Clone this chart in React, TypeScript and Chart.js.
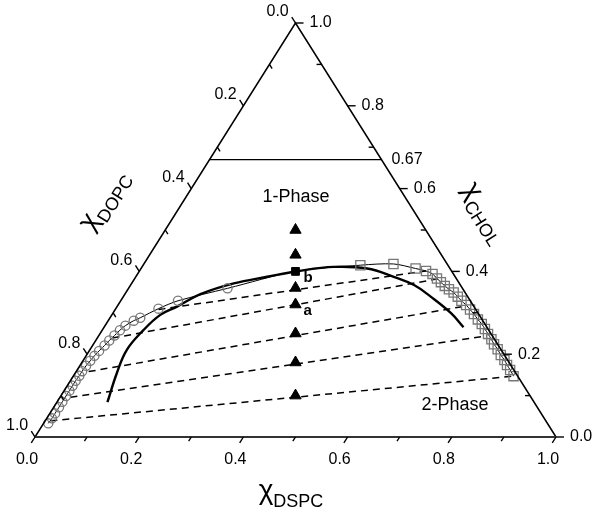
import React, { useEffect, useRef } from "react";
import { Chart, registerables } from "chart.js";

Chart.register(...registerables);

// Ternary compositions: DSPC mole fraction and CHOL mole fraction (DOPC = 1 - DSPC - CHOL)
const circleDSPC = [0.009, 0.010, 0.010, 0.010, 0.010, 0.010, 0.010, 0.010, 0.010, 0.011, 0.011, 0.012, 0.014, 0.016, 0.019, 0.023, 0.026, 0.030, 0.034, 0.039, 0.049, 0.058, 0.082, 0.110, 0.190];
const circleCHOL = [0.033, 0.045, 0.057, 0.072, 0.085, 0.099, 0.112, 0.124, 0.136, 0.148, 0.159, 0.172, 0.184, 0.196, 0.208, 0.221, 0.233, 0.245, 0.258, 0.269, 0.281, 0.288, 0.310, 0.329, 0.359];

const squareDSPC = [0.417, 0.479, 0.527, 0.550, 0.566, 0.580, 0.592, 0.604, 0.616, 0.629, 0.642, 0.654, 0.668, 0.681, 0.694, 0.708, 0.721, 0.733, 0.745, 0.758, 0.769, 0.782, 0.795, 0.808, 0.819, 0.831, 0.845];
const squareCHOL = [0.415, 0.418, 0.407, 0.401, 0.394, 0.383, 0.374, 0.365, 0.357, 0.349, 0.339, 0.329, 0.319, 0.308, 0.297, 0.284, 0.273, 0.261, 0.249, 0.236, 0.224, 0.212, 0.198, 0.186, 0.174, 0.162, 0.147];

const pointB = { dspc: 0.30, chol: 0.40 };

// samples at DSPC:DOPC = 1:1
const sampleCHOL = [0.50, 0.44, 0.36, 0.32, 0.25, 0.18, 0.10];

const curveDSPC = [0.097, 0.080, 0.071, 0.079, 0.093, 0.115, 0.145, 0.196, 0.252, 0.305, 0.368, 0.434, 0.495, 0.544, 0.590, 0.649, 0.690];
const curveCHOL = [0.084, 0.154, 0.210, 0.258, 0.295, 0.315, 0.345, 0.371, 0.387, 0.401, 0.411, 0.407, 0.387, 0.367, 0.339, 0.299, 0.265];

const tieLeftDSPC = [0.010, 0.020, 0.024, 0.029, 0.083];
const tieLeftCHOL = [0.039, 0.096, 0.158, 0.239, 0.308];
const tieRightDSPC = [0.845, 0.745, 0.667, 0.582, 0.550];
const tieRightCHOL = [0.147, 0.244, 0.316, 0.382, 0.401];

const limitCHOL = 0.67;

const tickValues = [0, 0.1, 0.2, 0.3, 0.4, 0.5, 0.6, 0.7, 0.8, 0.9, 1.0];

const toXY = (a: number, c: number) => ({ x: a + c / 2, y: c });

export default function App() {
  const ref = useRef<HTMLCanvasElement>(null);

  useEffect(() => {
    if (!ref.current) return;
    const FONT = '"Liberation Sans", Arial, sans-serif';

    const circles = circleDSPC.map((a, i) => toXY(a, circleCHOL[i]));
    const squares = squareDSPC.map((a, i) => toXY(a, squareCHOL[i]));
    const boundary = [...circles, toXY(pointB.dspc, pointB.chol), ...squares];
    const curve = curveDSPC.map((a, i) => toXY(a, curveCHOL[i]));
    const samples = sampleCHOL.map((c) => toXY((1 - c) / 2, c));

    const tieSets = tieLeftDSPC.map((a, i) => ({
      type: "scatter" as const,
      data: [toXY(a, tieLeftCHOL[i]), toXY(tieRightDSPC[i], tieRightCHOL[i])],
      showLine: true,
      borderColor: "#000",
      borderWidth: 1.5,
      borderDash: [7, 5],
      pointRadius: 0,
      clip: false as any,
      order: 10,
    }));

    const axisPlugin = {
      id: "ternaryAxes",
      afterDatasetsDraw(chart: any) {
        const ctx = chart.ctx as CanvasRenderingContext2D;
        const xs = chart.scales.x;
        const ys = chart.scales.y;
        const P = (a: number, c: number): [number, number] => [
          xs.getPixelForValue(a + c / 2),
          ys.getPixelForValue(c),
        ];
        const BL = P(0, 0);
        const BR = P(1, 0);
        const T = P(0, 1);
        const norm = (v: [number, number]): [number, number] => {
          const l = Math.hypot(v[0], v[1]);
          return [v[0] / l, v[1] / l];
        };
        const dBottom = norm([BL[0] - T[0], BL[1] - T[1]]);
        const dLeft = norm([T[0] - BR[0], T[1] - BR[1]]);

        ctx.save();
        // edges
        ctx.strokeStyle = "#000";
        ctx.lineWidth = 1.5;
        ctx.beginPath();
        ctx.moveTo(BL[0], BL[1]);
        ctx.lineTo(T[0], T[1]);
        ctx.lineTo(BR[0], BR[1]);
        ctx.stroke();
        ctx.strokeStyle = "#333";
        ctx.lineWidth = 2.2;
        ctx.beginPath();
        ctx.moveTo(BL[0], BL[1]);
        ctx.lineTo(BR[0], BR[1]);
        ctx.stroke();

        // 0.67 line
        const L1 = P(0, limitCHOL);
        const L2 = P(1 - limitCHOL, limitCHOL);
        ctx.strokeStyle = "#000";
        ctx.lineWidth = 1.2;
        ctx.beginPath();
        ctx.moveTo(L1[0], L1[1]);
        ctx.lineTo(L2[0], L2[1]);
        ctx.stroke();

        ctx.lineWidth = 1.4;
        ctx.strokeStyle = "#000";
        ctx.fillStyle = "#000";
        ctx.font = `16px ${FONT}`;
        tickValues.forEach((v, i) => {
          const major = i % 2 === 0;
          // bottom: DSPC
          const pb = P(v, 0);
          const lb = major ? 7 : 5;
          ctx.beginPath();
          ctx.moveTo(pb[0], pb[1]);
          ctx.lineTo(pb[0] + dBottom[0] * lb, pb[1] + dBottom[1] * lb);
          ctx.stroke();
          // left: DOPC
          const pl = P(0, 1 - v);
          const sl = major ? 7 : -5;
          ctx.beginPath();
          ctx.moveTo(pl[0], pl[1]);
          ctx.lineTo(pl[0] + dLeft[0] * sl, pl[1] + dLeft[1] * sl);
          ctx.stroke();
          // right: CHOL
          const pr = P(1 - v, v);
          const sr = major ? 8 : -5;
          ctx.beginPath();
          ctx.moveTo(pr[0], pr[1]);
          ctx.lineTo(pr[0] + sr, pr[1]);
          ctx.stroke();

          if (major) {
            const txt = v.toFixed(1);
            ctx.textBaseline = "middle";
            ctx.textAlign = "center";
            ctx.fillText(txt, pb[0] - 8, pb[1] + 23);
            ctx.textAlign = "right";
            ctx.fillText(txt, pl[0] + dLeft[0] * 7 - 3, pl[1] + dLeft[1] * 7 - 5);
            ctx.textAlign = "left";
            ctx.fillText(txt, pr[0] + 14, pr[1]);
          }
        });
        ctx.textAlign = "left";
        ctx.textBaseline = "middle";
        ctx.fillText(limitCHOL.toFixed(2), L2[0] + 10, L2[1]);

        // phase labels
        ctx.font = `18px ${FONT}`;
        ctx.textAlign = "center";
        ctx.fillText("1-Phase", 296, 197);
        ctx.fillText("2-Phase", 455, 405);

        // a / b labels
        ctx.font = `bold 15px ${FONT}`;
        ctx.textAlign = "left";
        const pbPix = P(pointB.dspc, pointB.chol);
        ctx.fillText("b", pbPix[0] + 8, pbPix[1] + 6);
        const pa = P((1 - 0.32) / 2, 0.32);
        ctx.fillText("a", pa[0] + 8, pa[1] + 6);

        // axis titles
        const chiLabel = (sub: string, cx: number, cy: number, ang: number) => {
          ctx.save();
          ctx.translate(cx, cy);
          ctx.rotate(ang);
          ctx.textBaseline = "alphabetic";
          ctx.textAlign = "left";
          ctx.font = `28px ${FONT}`;
          const wc = ctx.measureText("\u03C7").width;
          ctx.font = `18px ${FONT}`;
          const ws = ctx.measureText(sub).width;
          const x0 = -(wc + ws) / 2;
          ctx.font = `28px ${FONT}`;
          ctx.fillText("\u03C7", x0, 2);
          ctx.font = `18px ${FONT}`;
          ctx.fillText(sub, x0 + wc, 10);
          ctx.restore();
        };
        const angL = Math.atan2(T[1] - BL[1], T[0] - BL[0]);
        chiLabel("DOPC", 108, 203, angL);
        chiLabel("CHOL", 481, 215, -angL);
        chiLabel("DSPC", 291, 497, 0);
        ctx.restore();
      },
    };

    const chart = new Chart(ref.current, {
      type: "scatter",
      data: {
        datasets: [
          {
            data: samples,
            pointStyle: "triangle",
            pointRadius: 6.5,
            backgroundColor: "#000",
            borderColor: "#000",
            borderWidth: 1,
            clip: false as any,
            order: 0,
          },
          {
            data: [toXY(pointB.dspc, pointB.chol)],
            pointStyle: "rect",
            pointRadius: 5.5,
            backgroundColor: "#000",
            borderColor: "#000",
            borderWidth: 1,
            clip: false as any,
            order: 0,
          },
          {
            data: circles,
            pointStyle: "circle",
            pointRadius: 4.6,
            backgroundColor: "rgba(255,255,255,0)",
            borderColor: "#777",
            borderWidth: 1.3,
            clip: false as any,
            order: 1,
          },
          {
            data: squares,
            pointStyle: "rect",
            pointRadius: 6.5,
            backgroundColor: "rgba(255,255,255,0)",
            borderColor: "#777",
            borderWidth: 1.3,
            clip: false as any,
            order: 1,
          },
          {
            data: boundary,
            showLine: true,
            tension: 0.3,
            borderColor: "#000",
            borderWidth: 1,
            pointRadius: 0,
            clip: false as any,
            order: 3,
          },
          {
            data: curve,
            showLine: true,
            tension: 0.4,
            borderColor: "#000",
            borderWidth: 2.4,
            pointRadius: 0,
            clip: false as any,
            order: 2,
          },
          ...tieSets,
        ] as any,
      },
      options: {
        animation: false,
        responsive: false,
        layout: { padding: { left: 35, right: 44, top: 23, bottom: 83 } },
        scales: {
          x: { type: "linear", min: 0, max: 1, display: false },
          y: { type: "linear", min: 0, max: 1, display: false },
        },
        plugins: { legend: { display: false }, tooltip: { enabled: false } },
        events: [],
      },
      plugins: [axisPlugin],
    });
    return () => chart.destroy();
  }, []);

  return (
    <div style={{ position: "fixed", left: 0, top: 0, width: 600, height: 520, background: "#fff" }}>
      <canvas ref={ref} width={600} height={520} style={{ display: "block" }} />
    </div>
  );
}
